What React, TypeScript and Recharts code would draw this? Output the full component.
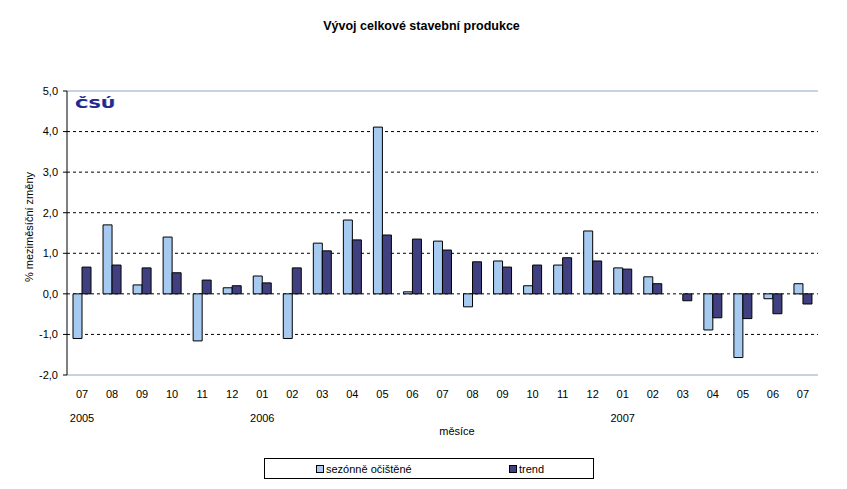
import React from 'react';
import { BarChart, Bar, XAxis, YAxis, CartesianGrid, ReferenceLine } from 'recharts';

const months = ['07', '08', '09', '10', '11', '12', '01', '02', '03', '04', '05', '06', '07', '08', '09', '10', '11', '12', '01', '02', '03', '04', '05', '06', '07'];
const years = ['2005', '', '', '', '', '', '2006', '', '', '', '', '', '', '', '', '', '', '', '2007', '', '', '', '', '', ''];
const seasonal = [-1.1, 1.7, 0.22, 1.4, -1.16, 0.15, 0.44, -1.1, 1.25, 1.82, 4.11, 0.05, 1.3, -0.32, 0.81, 0.2, 0.71, 1.55, 0.64, 0.42, 0.0, -0.89, -1.57, -0.12, 0.25];
const trend = [0.66, 0.71, 0.64, 0.52, 0.34, 0.2, 0.27, 0.64, 1.06, 1.33, 1.45, 1.35, 1.08, 0.79, 0.66, 0.71, 0.89, 0.81, 0.61, 0.25, -0.17, -0.59, -0.61, -0.49, -0.25];
const yTicks = [-2, -1, 0, 1, 2, 3, 4, 5];
const gridValues = [-1, 0, 1, 2, 3, 4];

const data = months.map((m, i) => ({ month: m, year: years[i], seasonal: seasonal[i], trend: trend[i] }));

const FONT = 'Arial, "Liberation Sans", sans-serif';
const LIGHT = '#A6CAF0';
const DARK = '#404080';
const FRAME = '#8EA4C6';

const fmt = (v: number) => v.toFixed(1).replace('.', ',');

export default function App() {
    return (
        <div style={{ position: 'absolute', left: 0, top: 0, width: 847, height: 489, background: '#fff', fontFamily: FONT }}>
            <div style={{ position: 'absolute', left: 0, width: 847, top: 19, textAlign: 'center', fontSize: 12.5, fontWeight: 'bold' }}>
                <span style={{ position: 'relative', left: -2 }}>Vývoj celkové stavební produkce</span>
            </div>
            <BarChart
                width={847}
                height={489}
                data={data}
                margin={{ top: 91, right: 29, bottom: 50, left: 0 }}
                barGap={0}
                barSize={9}
            >
                <CartesianGrid vertical={false} horizontalValues={gridValues} stroke="#000" strokeDasharray="3 3" />
                <XAxis
                    dataKey="month"
                    interval={0}
                    height={24}
                    tickSize={0}
                    tickMargin={15}
                    tickLine={false}
                    axisLine={{ stroke: FRAME }}
                    tick={{ fill: '#000', fontSize: 11, fontFamily: FONT }}
                />
                <XAxis
                    xAxisId="yr"
                    dataKey="year"
                    interval={0}
                    height={40}
                    tickSize={0}
                    tickMargin={15}
                    tickLine={false}
                    axisLine={false}
                    tick={{ fill: '#000', fontSize: 11, fontFamily: FONT }}
                />
                <YAxis
                    width={67}
                    domain={[-2, 5]}
                    ticks={yTicks}
                    interval={0}
                    tickFormatter={fmt}
                    tickSize={4}
                    tickMargin={5}
                    axisLine={{ stroke: '#000' }}
                    tickLine={{ stroke: '#000' }}
                    tick={{ fill: '#000', fontSize: 11, fontFamily: FONT }}
                />
                <YAxis
                    yAxisId="r"
                    orientation="right"
                    width={0}
                    domain={[-2, 5]}
                    tick={false}
                    tickLine={false}
                    axisLine={{ stroke: FRAME }}
                />
                <ReferenceLine y={5} stroke={FRAME} />
                <Bar dataKey="seasonal" name="sezónně očištěné" fill={LIGHT} stroke="#000" strokeWidth={1} isAnimationActive={false} />
                <Bar dataKey="trend" name="trend" fill={DARK} stroke="#000" strokeWidth={1} isAnimationActive={false} />
            </BarChart>
            <div style={{ position: 'absolute', left: 75, top: 96, fontFamily: '"DejaVu Sans", sans-serif', fontWeight: 'bold', fontSize: 14, color: '#1F2A8F', transformOrigin: 'left top', transform: 'scale(1.25, 0.9)', textShadow: '0.5px 0.5px 0 #7f86c4' }}>
                ČSÚ
            </div>
            <div style={{ position: 'absolute', left: 29, top: 227, width: 0, height: 0 }}>
                <div style={{ position: 'absolute', transform: 'translate(-50%, -50%) rotate(-90deg)', whiteSpace: 'nowrap', fontSize: 11 }}>
                    % meziměsíční změny
                </div>
            </div>
            <div style={{ position: 'absolute', left: 457, top: 431, width: 0 }}>
                <div style={{ position: 'absolute', transform: 'translate(-50%, -50%)', whiteSpace: 'nowrap', fontSize: 11 }}>měsíce</div>
            </div>
            <div style={{ position: 'absolute', left: 264, top: 458, width: 328, height: 19, border: '1px solid #000', fontSize: 11 }}>
                <div style={{ position: 'absolute', left: 51, top: 4, display: 'flex', alignItems: 'center', whiteSpace: 'nowrap' }}>
                    <span style={{ display: 'inline-block', width: 6, height: 6, background: LIGHT, border: '1px solid #000', marginRight: 2 }} />
                    sezónně očištěné
                </div>
                <div style={{ position: 'absolute', left: 244, top: 4, display: 'flex', alignItems: 'center', whiteSpace: 'nowrap' }}>
                    <span style={{ display: 'inline-block', width: 6, height: 6, background: DARK, border: '1px solid #000', marginRight: 2 }} />
                    trend
                </div>
            </div>
        </div>
    );
}
